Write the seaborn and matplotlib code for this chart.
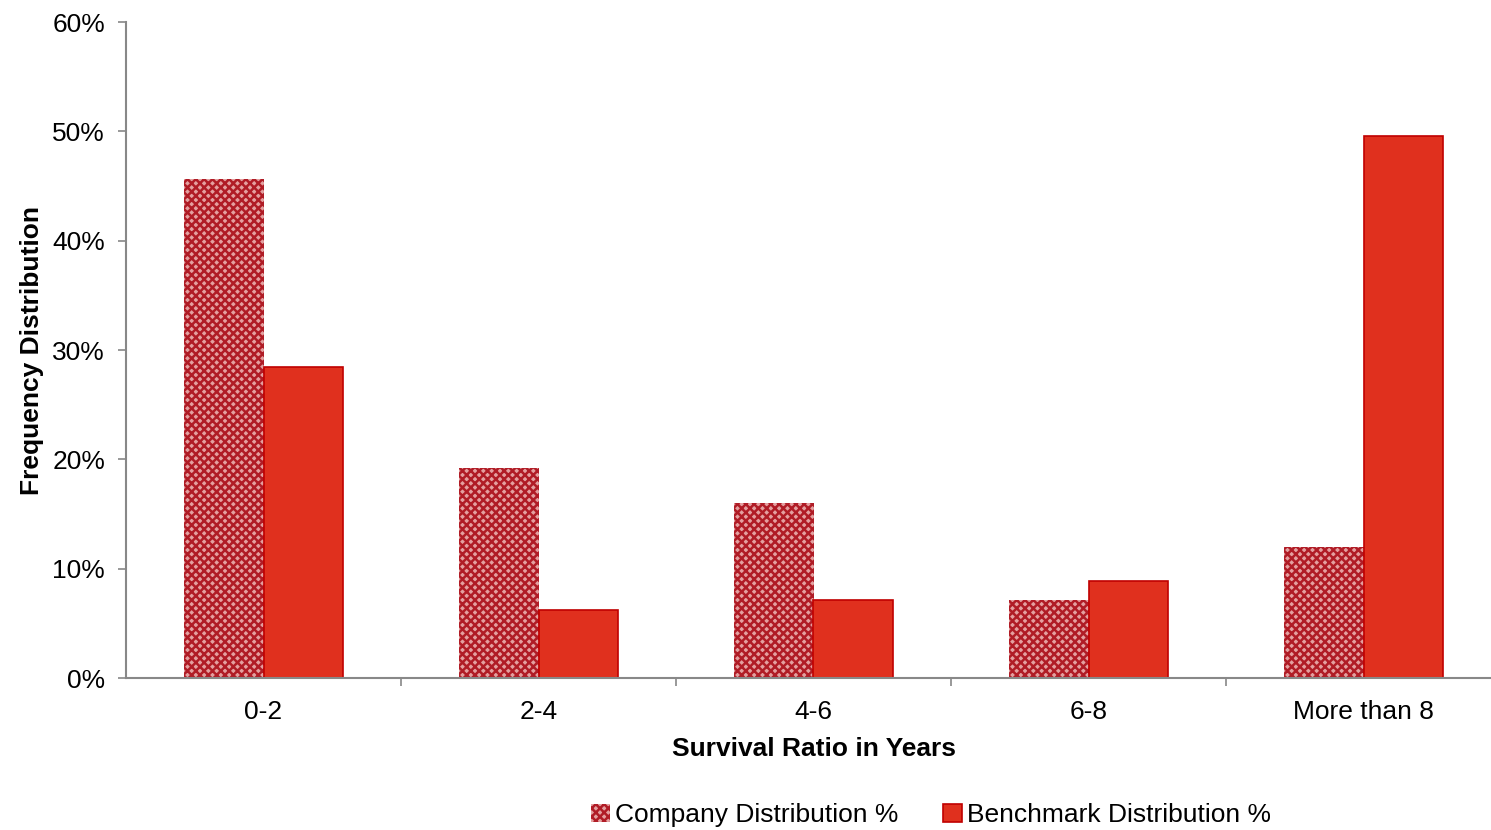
import pandas as pd
import numpy as np
import matplotlib.pyplot as plt
import seaborn as sns
from matplotlib.patches import Patch
from matplotlib.ticker import FuncFormatter

categories = ['0-2', '2-4', '4-6', '6-8', 'More than 8']
company = [45.6, 19.2, 16.0, 7.1, 12.0]
benchmark = [28.4, 6.2, 7.1, 8.9, 49.6]
series = ['Company Distribution %', 'Benchmark Distribution %']

df = pd.DataFrame({
    'cat': categories * 2,
    'val': company + benchmark,
    'series': [series[0]] * 5 + [series[1]] * 5,
})

sns.set_style('white')
plt.rcParams['font.family'] = ['Liberation Sans', 'DejaVu Sans']
plt.rcParams['hatch.linewidth'] = 1.8
plt.rcParams['text.color'] = 'black'
plt.rcParams['axes.labelcolor'] = 'black'
plt.rcParams['xtick.color'] = 'black'
plt.rcParams['ytick.color'] = 'black'

fig = plt.figure(figsize=(14.91, 8.30), dpi=100)
# plot area runs slightly past the right edge of the picture
ax = fig.add_axes([126 / 1491, 1 - 678 / 830, (1501 - 126) / 1491, (678 - 22) / 830])

sns.barplot(data=df, x='cat', y='val', hue='series', order=categories, hue_order=series,
            palette=['#e4a0a0', '#e0301e'], saturation=1, width=0.575, gap=0, ax=ax, legend=False)

for bar in ax.patches[:5]:
    bar.set_hatch('xxxx')
    bar.set_edgecolor('#b01c26')
    bar.set_linewidth(0)
for bar in ax.patches[5:]:
    bar.set_edgecolor('#c00000')
    bar.set_linewidth(1.2)

ax.set_ylim(0, 60)
ax.set_xlim(-0.5, len(categories) - 0.5)
ax.set_yticks(range(0, 61, 10))
ax.yaxis.set_major_formatter(FuncFormatter(lambda v, p: f'{int(v)}%'))
ax.set_xticks(range(len(categories)))
ax.set_xticklabels(categories)
ax.set_xticks(np.arange(0.5, len(categories), 1), minor=True)
ax.tick_params(axis='x', which='major', bottom=True, length=0, labelsize=19, pad=16)
ax.tick_params(axis='x', which='minor', bottom=True, length=6, color='#888888', width=1.2, direction='out')
ax.tick_params(axis='y', left=True, length=6, color='#888888', width=1.2, direction='out',
               labelsize=19, pad=9)

for s in ['top', 'right']:
    ax.spines[s].set_visible(False)
for s in ['left', 'bottom']:
    ax.spines[s].set_color('#888888')
    ax.spines[s].set_linewidth(1.5)

ax.set_xlabel('Survival Ratio in Years', fontsize=19, fontweight='bold', labelpad=9)
ax.set_ylabel('Frequency Distribution', fontsize=19, fontweight='bold', labelpad=6)

handles = [Patch(facecolor='#e4a0a0', edgecolor='#b01c26', hatch='xxxx', linewidth=0),
           Patch(facecolor='#e0301e', edgecolor='#c00000', linewidth=1.2)]
fig.legend(handles, series, loc='center', bbox_to_anchor=(931 / 1491, 1 - 815 / 830),
           ncol=2, frameon=False, fontsize=19, handlelength=0.7, handleheight=0.7,
           handletextpad=0.2, columnspacing=1.7)

fig.savefig('out.png', dpi=100)
